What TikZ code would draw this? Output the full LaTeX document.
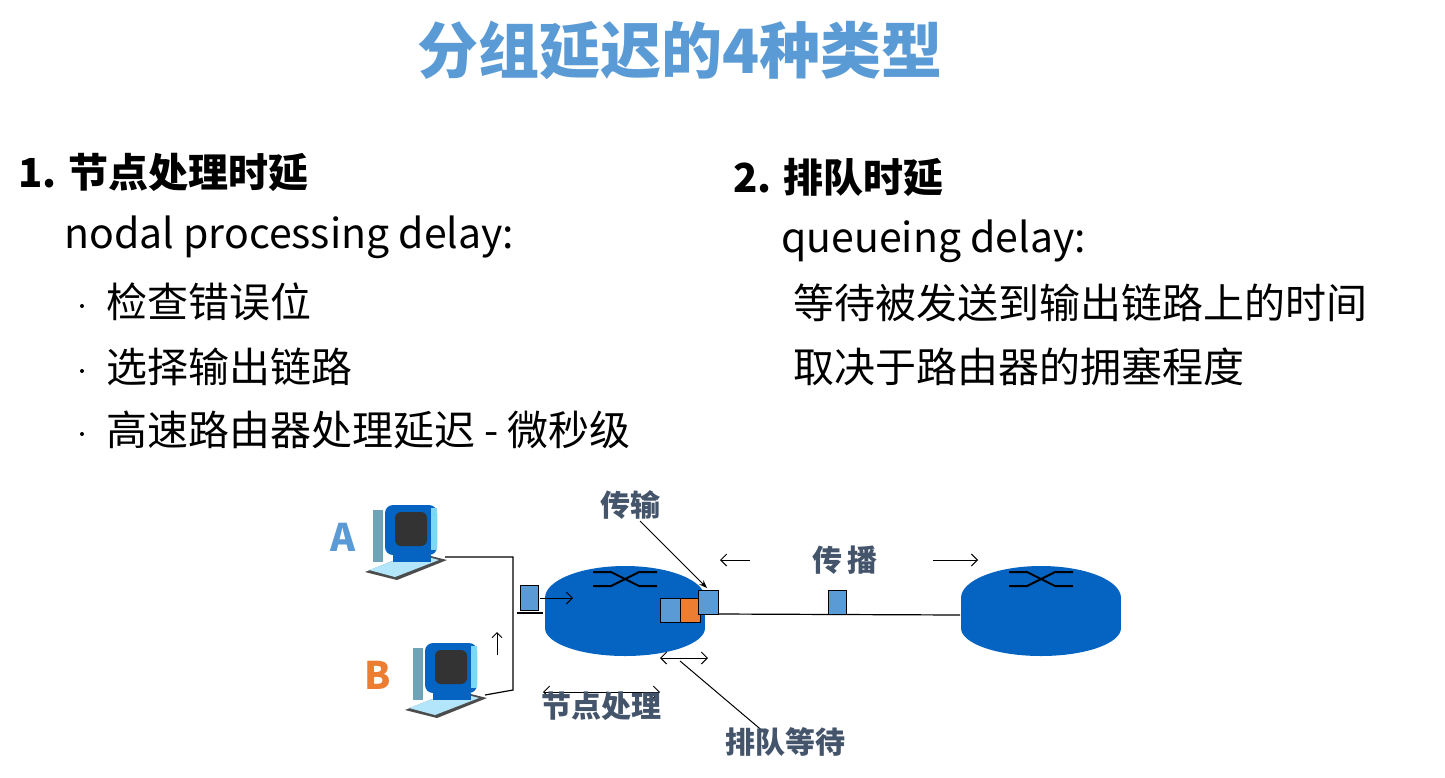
\documentclass[tikz,border=0pt]{standalone}
\usepackage{fontspec}
\setmainfont{Noto Sans CJK SC}
\usetikzlibrary{arrows.meta}
\definecolor{tblue}{RGB}{91,155,213}
\definecolor{rblue}{RGB}{5,99,193}
\definecolor{pblue}{RGB}{91,155,213}
\definecolor{qorange}{RGB}{237,125,49}
\definecolor{lgray}{RGB}{68,84,106}
\begin{document}
\begin{tikzpicture}[x=1pt,y=-1pt,
  body/.style={font=\fontsize{41}{46}\selectfont,anchor=west,inner sep=0},
  head/.style={font=\fontsize{40}{46}\selectfont\bfseries,anchor=west,inner sep=0},
  lbl/.style={font=\fontsize{30}{34}\selectfont\bfseries,text=lgray,inner sep=0},
  dot/.style={circle,fill=black,inner sep=0,minimum size=4pt},
  pkt/.style={draw=black,line width=1pt,fill=pblue},
  ln/.style={line width=1.2pt},
  arr/.style={line width=1pt,-{Straight Barb[length=6pt]}},
  darr/.style={line width=1pt,{Straight Barb[length=6pt]}-{Straight Barb[length=6pt]}}]
\useasboundingbox (0,0) rectangle (1445,777);
\node[font=\fontsize{61}{66}\selectfont\bfseries,text=tblue] (title) at (680,50) {分组延迟的4种类型};
\node[head] (h1) at (18,172) {1. 节点处理时延};
\node[body] (n1) at (64,237) {nodal processing delay:};
\foreach \n/\y/\t in {b1/302/检查错误位,b2/367/选择输出链路,b3/430/高速路由器处理延迟 - 微秒级}{
  \node[dot] (\n d) at (82,\y+4) {};
  \node[body] (\n) at (106,\y) {\t};
}
\node[head] (h2) at (733,177) {2. 排队时延};
\node[body] (q1) at (781,241) {queueing delay:};
\node[body] (q2) at (793,303) {等待被发送到输出链路上的时间};
\node[body] (q3) at (793,367) {取决于路由器的拥塞程度};
% routers
\foreach \n/\cx in {r1/625,r2/1041}{
  \fill[rblue] (\cx,628) ellipse[x radius=80,y radius=28];
  \fill[rblue] (\cx-80,598) rectangle (\cx+80,628);
  \fill[rblue] (\cx,598) ellipse[x radius=80,y radius=32];
  \coordinate (\n) at (\cx,598);
  \draw[line width=2pt] (\cx-32,572) -- (\cx-14,572) -- (\cx+14,586) -- (\cx+32,586);
  \draw[line width=2pt] (\cx-32,586) -- (\cx-14,586) -- (\cx+14,572) -- (\cx+32,572);
}
% computers
\foreach \n/\x/\y in {pcA/365/500,pcB/405/638}{
  \begin{scope}[shift={(\x,\y)}]
  \fill[black!70] (0,72) -- (50,52) -- (82,60) -- (32,80) -- cycle;
  \fill[cyan!30] (4,70) -- (48,53) -- (74,60) -- (30,77) -- cycle;
  \fill[cyan!40!gray] (8,10) rectangle (18,62);
  \fill[rblue,rounded corners=8pt] (20,5) rectangle (72,55);
  \fill[black!80,rounded corners=6pt] (30,12) rectangle (62,46);
  \fill[cyan!50] (66,8) rectangle (72,50);
  \fill[rblue] (28,55) rectangle (66,62);
  \end{scope}
  \coordinate (\n) at (\x+80,\y+57);
}
\node[font=\fontsize{38}{42}\selectfont\bfseries,text=tblue] (A) at (343,537) {A};
\node[font=\fontsize{38}{42}\selectfont\bfseries,text=qorange] (B) at (378,675) {B};
\coordinate (j1) at (513,557);
\coordinate (j2) at (513,690);
\draw[ln] (pcA) -- (j1) -- (j2) -- (pcB);
\draw[ln] (517,613) -- (543,613);
\draw[pkt] (520,585) rectangle (538,610);
\draw[arr] (540,598) -- (573,598);
\draw[line width=1pt,-{Straight Barb[length=5pt]}] (497,655) -- (497,632);
% queue
\draw[pkt] (660,598) rectangle (680,622);
\draw[pkt,fill=qorange] (680,598) rectangle (700,622);
\draw[pkt] (698,590) rectangle (718,614);
\coordinate (l1) at (718,614);
\coordinate (l2) at (960,615);
\draw[ln] (l1) -- (l2);
\draw[pkt] (828,590) rectangle (846,614);
% labels
\node[lbl] (tx) at (630,505) {传输};
\draw[line width=1pt,-{Stealth[length=8pt]}] (640,521) -- (707,588);
\node[lbl] (pr) at (845,560) {传\,播};
\draw[arr] (750,560) -- (720,560);
\draw[arr] (933,560) -- (978,560);
\draw[darr] (660,658) -- (708,658);
\draw[line width=1pt] (680,661) -- (765,733);
\node[lbl] (qw) at (785,742) {排队等待};
\draw[darr] (543,692) -- (660,692);
\node[lbl] (np) at (601,706) {节点处理};
\end{tikzpicture}
\end{document}
